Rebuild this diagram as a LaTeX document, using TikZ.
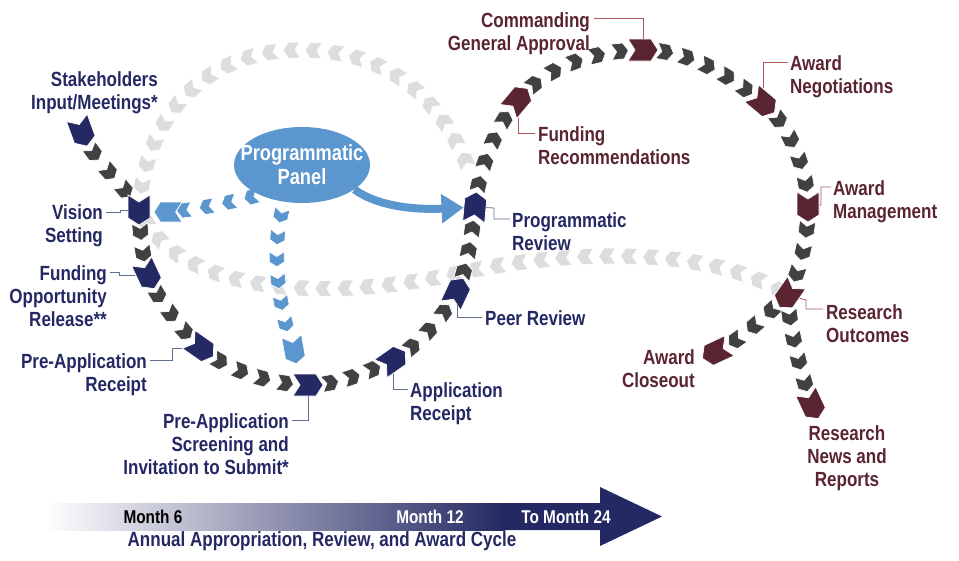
\documentclass[tikz,border=0pt]{standalone}
\usepackage{fontspec}
\setmainfont{Liberation Sans}[FakeStretch=0.83]
\usepackage{tikz}
\usetikzlibrary{positioning}
\usetikzlibrary{shapes.symbols}
\usetikzlibrary{shapes.geometric}
\usetikzlibrary{decorations.markings}
\usetikzlibrary{arrows.meta}
\usetikzlibrary{backgrounds}
\definecolor{navy}{HTML}{242963}
\definecolor{wine}{HTML}{5A2530}
\definecolor{slate}{HTML}{414143}
\definecolor{mist}{HTML}{DCDDDF}
\definecolor{sky}{HTML}{5C96CE}
\definecolor{navline}{HTML}{5F7090}
\definecolor{wineline}{HTML}{B0585E}
\tikzset{chev/.style={shape=signal, signal from=west, signal to=east,
        signal pointer angle=115, inner sep=0pt, draw=white, line width=0.7pt},
    bignavy/.style={chev, fill=navy, minimum width=30pt, minimum height=22pt},
    bigwine/.style={chev, fill=wine, minimum width=30pt, minimum height=22pt},
    bigsky/.style={chev, fill=sky, minimum width=28pt, minimum height=20pt},
    tinyslate/.style={chev, fill=slate, minimum width=17pt, minimum height=16pt, transform shape},
    tinymist/.style={chev, fill=mist, minimum width=17pt, minimum height=16pt, transform shape},
    tinysky/.style={chev, fill=sky, minimum width=15pt, minimum height=15pt, transform shape},
    run/.style={decoration={markings, mark=between positions #1 and 0.99 step #1 with {\node[tinyslate]{};}}, decorate},
    mistrun/.style={decoration={markings, mark=between positions 0 and 1 step 22pt with {\node[tinymist]{};}}, decorate},
    skyrun/.style={decoration={markings, mark=between positions 0.1 and 0.95 step #1 with {\node[tinysky]{};}}, decorate},
    lab/.style={font=\fontsize{20.5}{23}\selectfont\bfseries, inner sep=0pt},
    navlab/.style={lab, text=navy},
    winelab/.style={lab, text=wine},
    navtick/.style={draw=navline, line width=0.8pt},
    winetick/.style={draw=wineline, line width=0.8pt}}

\begin{document}
\begin{tikzpicture}[x=1pt, y=-1pt]
\useasboundingbox (0,0) rectangle (959,560);

\node[bignavy, rotate=-70] (stake) at (82,132) {};
\node[bignavy, rotate=-90] (vision) at (139,210) {};
\node[bignavy, rotate=-65] (fundopp) at (148,275) {};
\node[bignavy, rotate=-35] (prerec) at (201,348) {};
\node[bignavy] (screen) at (308,385) {};
\node[bignavy, rotate=35] (apprec) at (393,360) {};
\node[bignavy, rotate=65] (peer) at (457,292) {};
\node[bignavy, rotate=85] (progrev) at (475,207) {};
\node[bigwine, rotate=50] (fundrec) at (518,100) {};
\node[bigwine] (cga) at (643,50) {};
\node[bigwine, rotate=-40] (negot) at (763,103) {};
\node[bigwine, rotate=-90] (manage) at (808,207) {};
\node[bigwine, rotate=-125] (outcome) at (788,295) {};
\node[bigwine, rotate=-155] (closeout) at (716,352) {};
\node[bigwine, rotate=-65] (news) at (812,405) {};
\node[bigsky, rotate=180] (skyleft) at (168,212) {};
\node[bigsky, rotate=-80] (skydown) at (294,350) {};
\node[ellipse, fill=sky, minimum width=136pt, minimum height=76pt, inner xsep=-14pt, inner ysep=4pt, align=center,
    text=white, font=\fontsize{22}{24}\selectfont\bfseries] (panel) at (302,165) {Programmatic\\Panel};
\coordinate (loopstart) at (465,160);

\begin{scope}[on background layer]
\path[mistrun] (loopstart) .. controls (430,80) and (370,50) .. (300,50)
    .. controls (220,50) and (150,100) .. (vision);
\path[mistrun] (outcome) .. controls (700,245) and (560,250) .. (450,275)
    .. controls (330,300) and (190,295) .. (vision);
\path[skyrun=0.27] (panel.215) .. controls +(-30,8) and +(30,-3) .. (skyleft);
\path[skyrun=0.155] (panel.245) .. controls +(-16,45) and +(-14,-40) .. (skydown);
\path[run=0.25] (stake.center) .. controls +(8,25) and +(-10,-20) .. (vision.center);
\path[run=0.333] (vision.center) .. controls +(1,20) and +(-6,-20) .. (fundopp.center);
\path[run=0.25] (fundopp.center) .. controls +(8,22) and +(-18,-15) .. (prerec.center);
\path[run=0.2] (prerec.center) .. controls +(25,22) and +(-35,0) .. (screen.center);
\path[run=0.25] (screen.center) .. controls +(30,0) and +(-25,12) .. (apprec.center);
\path[run=0.25] (apprec.center) .. controls +(26,-15) and +(-15,26) .. (peer.center);
\path[run=0.25] (peer.center) .. controls +(10,-25) and +(-3,28) .. (progrev.center);
\path[run=0.2] (progrev.center) .. controls +(3,-35) and +(-22,25) .. (fundrec.center);
\path[run=0.1667] (fundrec.center) .. controls +(29,-35) and +(-45,0) .. (cga.center);
\path[run=0.1667] (cga.center) .. controls +(45,0) and +(-35,-29) .. (negot.center);
\path[run=0.2] (negot.center) .. controls +(27,22) and +(0,-35) .. (manage.center);
\path[run=0.25] (manage.center) .. controls +(0,30) and +(12,-25) .. (outcome.center);
\path[run=0.25] (outcome.center) .. controls +(-20,18) and +(27,-13) .. (closeout.center);
\path[run=0.2] (outcome.center) .. controls +(0,30) and +(-10,-28) .. (news.center);
\end{scope}

\draw[sky, line width=8pt, -{Triangle[length=22pt, width=28pt]}] (panel.-25)
    .. controls +(30,22) and +(-40,2) .. (progrev);

\node[navlab, anchor=north east, align=right] (stakeL) at (158,71) {Stakeholders\\Input/Meetings*};
\node[navlab, anchor=north east, align=right] (visionL) at (103,204) {Vision\\Setting};
\node[navlab, anchor=north east, align=right] (fundL) at (107,265) {Funding\\Opportunity\\Release**};
\node[navlab, anchor=north east, align=right] (praL) at (147,353) {Pre-Application\\Receipt};
\node[navlab, anchor=north east, align=right] (screenL) at (289,413) {Pre-Application\\Screening and\\Invitation to Submit*};
\node[navlab, anchor=north west, align=left] (appL) at (410,382) {Application\\Receipt};
\node[navlab, anchor=north west] (peerL) at (485,310) {Peer Review};
\node[navlab, anchor=north west, align=left] (progL) at (512,212) {Programmatic\\Review};
\node[winelab, anchor=north west, align=left] (frecL) at (538,126) {Funding\\Recommendations};
\node[winelab, anchor=north east, align=right] (cgaL) at (590,12) {Commanding\\General Approval};
\node[winelab, anchor=north west, align=left] (negL) at (790,55) {Award\\Negotiations};
\node[winelab, anchor=north west, align=left] (mgmtL) at (833,180) {Award\\Management};
\node[winelab, anchor=north west, align=left] (outL) at (826,304) {Research\\Outcomes};
\node[winelab, anchor=north east, align=right] (closeL) at (695,349) {Award\\Closeout};
\node[winelab, anchor=north, align=center] (newsL) at (847,425) {Research\\News and\\Reports};

\draw[navtick] ([shift={(3,8)}]visionL.north east) -- ++(14,0) |- (vision);
\draw[navtick] ([shift={(3,7)}]fundL.north east) -- ++(9,0) |- (fundopp);
\draw[navtick] ([shift={(3,7)}]praL.north east) -- ++(22,0) |- (prerec);
\draw[navtick] ([shift={(3,7)}]screenL.north east) -| (screen);
\draw[navtick] (apprec) |- ([shift={(-2,7)}]appL.north west);
\draw[navtick] (peer) |- ([shift={(-3,7)}]peerL.north west);
\draw[navtick] ([shift={(-2,7)}]progL.north west) -| ++(-16,-11) -- (progrev);
\draw[winetick] (fundrec) |- ([shift={(-3,7)}]frecL.north west);
\draw[winetick] ([shift={(4,6)}]cgaL.north east) -| (cga);
\draw[winetick] ([shift={(-2,7)}]negL.north west) -| (negot);
\draw[winetick] ([shift={(-2,7)}]mgmtL.north west) -| ++(-10,18) -- (manage);
\draw[winetick] ([shift={(-3,5)}]outL.north west) -| ++(-17,-9) -- (outcome);

\fill[navy] (45,503) -- (600,503) -- (600,487) -- (662,516.5) -- (600,546) -- (600,530) -- (45,530) -- cycle;
\shade[left color=white, right color=navy] (45,503) rectangle (505,530);
\node[lab, font=\fontsize{18.5}{20}\selectfont\bfseries, text=black] (m6) at (153,517) {Month 6};
\node[lab, font=\fontsize{18.5}{20}\selectfont\bfseries, text=white] (m12) at (430,517) {Month 12};
\node[lab, font=\fontsize{18.5}{20}\selectfont\bfseries, text=white] (m24) at (566,517) {To Month 24};
\node[lab, font=\fontsize{20.5}{22}\selectfont\bfseries, text=navy] (cycle) at (322,541) {Annual Appropriation, Review, and Award Cycle};
\end{tikzpicture}
\end{document}
